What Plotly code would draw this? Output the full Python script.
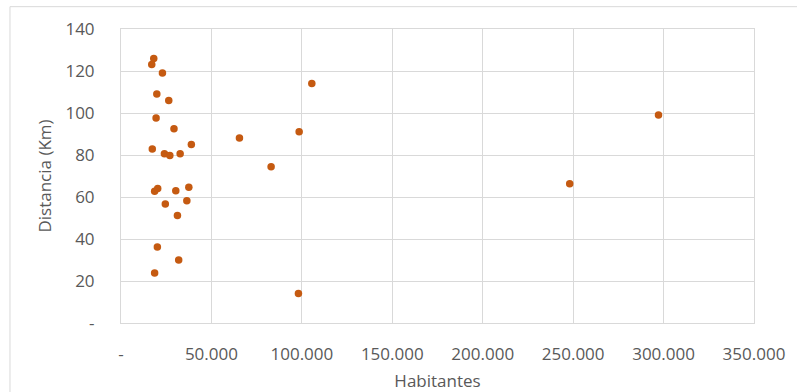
import plotly.graph_objects as go

# Population (inhabitants) and distance (km) for each town
habitantes = [18100, 17000, 22900, 19800, 26400, 19400, 29300, 17300, 38900, 24000,
              27000, 32700, 65500, 98500, 105500, 83000, 297200, 248100, 18600, 20300,
              30300, 37500, 24500, 36400, 31200, 20100, 31900, 18600, 98100]
distancia = [126.0, 123.1, 119.0, 109.0, 105.9, 97.6, 92.5, 82.9, 85.0, 80.6,
             79.8, 80.6, 88.1, 91.1, 114.0, 74.4, 99.0, 66.3, 62.7, 64.0,
             63.0, 64.6, 56.7, 58.2, 51.2, 36.2, 30.0, 23.8, 14.0]

x_ticks = [0, 50000, 100000, 150000, 200000, 250000, 300000, 350000]
x_labels = ["-", "50.000", "100.000", "150.000", "200.000", "250.000", "300.000", "350.000"]
y_ticks = [0, 20, 40, 60, 80, 100, 120, 140]
y_labels = ["-", "20", "40", "60", "80", "100", "120", "140"]

GRID = "#d9d9d9"
TEXT = "#595959"
FONT = "Open Sans"

fig = go.Figure(
    go.Scatter(
        x=habitantes,
        y=distancia,
        mode="markers",
        marker=dict(color="#c55a11", size=7.5, line=dict(width=0)),
        hoverinfo="x+y",
    )
)

axis_common = dict(
    showgrid=True,
    gridcolor=GRID,
    gridwidth=1,
    showline=True,
    linecolor=GRID,
    linewidth=1,
    mirror=True,
    zeroline=False,
    tickfont=dict(family=FONT, size=17, color=TEXT),
    ticks="",
)

fig.update_xaxes(
    range=[0, 350000],
    tickmode="array",
    tickvals=x_ticks,
    ticktext=x_labels,
    ticklabelstandoff=16,
    title=dict(text="Habitantes", font=dict(family=FONT, size=17, color=TEXT), standoff=10),
    **axis_common,
)
fig.update_yaxes(
    range=[0, 140],
    tickmode="array",
    tickvals=y_ticks,
    ticktext=y_labels,
    ticklabelstandoff=22,
    title=dict(text="Distancia (Km)", font=dict(family=FONT, size=17, color=TEXT), standoff=9),
    **axis_common,
)

# Outer chart-area border
fig.add_shape(
    type="rect", xref="paper", yref="paper",
    x0=-0.1754, x1=1.2, y0=-0.4, y1=1.0759,
    line=dict(color=GRID, width=1), fillcolor="rgba(0,0,0,0)", layer="below",
)

fig.update_layout(
    width=797,
    height=392,
    margin=dict(l=121, r=43, t=29, b=69, autoexpand=False),
    paper_bgcolor="white",
    plot_bgcolor="white",
    showlegend=False,
    font=dict(family=FONT, color=TEXT),
)

fig.write_html("out.html")
